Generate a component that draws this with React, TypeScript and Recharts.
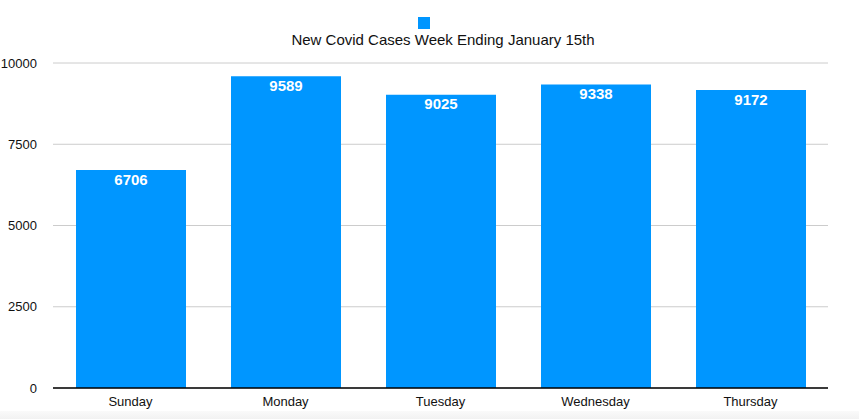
import React from 'react';
import { BarChart, Bar, XAxis, YAxis, CartesianGrid, Legend, LabelList } from 'recharts';

const days = ['Sunday', 'Monday', 'Tuesday', 'Wednesday', 'Thursday'];
const cases = [6706, 9589, 9025, 9338, 9172];
const yTicks = [0, 2500, 5000, 7500, 10000];

const data = days.map((day, i) => ({ day, cases: cases[i] }));

const BLUE = '#0096ff';
const FONT = '"Liberation Sans", Arial, Helvetica, sans-serif';

const TopLegend = () => (
  <div style={{ height: 46, paddingLeft: 58, textAlign: 'center', fontFamily: FONT, color: '#111' }}>
    <div style={{ width: 12, height: 12, background: BLUE, margin: '9px auto 0', position: 'relative', left: -19 }} />
    <div style={{ fontSize: 15, marginTop: 2 }}>New Covid Cases Week Ending January 15th</div>
  </div>
);

const App: React.FC = () => {
  return (
    <div style={{ position: 'absolute', left: 0, top: 0, width: 859, height: 419, background: '#fff', fontFamily: FONT }}>
      <BarChart width={859} height={419} data={data} margin={{ top: 8, right: 31, left: 0, bottom: 0 }}>
        <Legend verticalAlign="top" content={<TopLegend />} />
        <CartesianGrid vertical={false} stroke="#cccccc" />
        <XAxis
          dataKey="day"
          axisLine={{ stroke: '#000', strokeWidth: 1.5 }}
          tickLine={false}
          tick={{ fill: '#111', fontSize: 13 }}
          tickMargin={3}
          height={31}
        />
        <YAxis
          domain={[0, 10000]}
          ticks={yTicks}
          axisLine={false}
          tickLine={false}
          tick={{ fill: '#111', fontSize: 13 }}
          width={53}
          tickMargin={10}
        />
        <Bar dataKey="cases" fill={BLUE} barSize={110} isAnimationActive={false}>
          <LabelList dataKey="cases" position="insideTop" fill="#fff" fontSize={15} fontWeight="bold" offset={4} />
        </Bar>
      </BarChart>
      <div style={{ position: 'absolute', left: 0, top: 411, width: 859, height: 8, background: 'linear-gradient(#fafafa, #f2f2f2)' }} />
    </div>
  );
};

export default App;
